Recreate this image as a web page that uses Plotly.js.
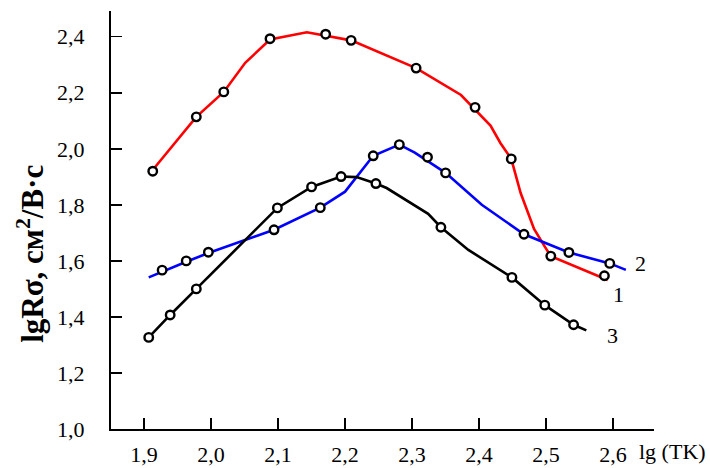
<!DOCTYPE html>
<html>
<head>
<meta charset="utf-8">
<script src="https://cdn.plot.ly/plotly-3.0.1.min.js"></script>
<style>html,body{margin:0;padding:0;background:#fff;}#chart{width:710px;height:468px;}</style>
</head>
<body>
<div id="chart"></div>
<script>
// Axis ticks
const xTickVals = [1.9, 2.0, 2.1, 2.2, 2.3, 2.4, 2.5, 2.6];
const xTickText = ['1,9', '2,0', '2,1', '2,2', '2,3', '2,4', '2,5', '2,6'];
const yTickVals = [1.0, 1.2, 1.4, 1.6, 1.8, 2.0, 2.2, 2.4];
const yTickText = ['1,0', '1,2', '1,4', '1,6', '1,8', '2,0', '2,2', '2,4'];

// Curve 1 (red)
const c1LineX = [1.908, 1.978, 2.019, 2.051, 2.088, 2.143, 2.209, 2.306, 2.373, 2.417, 2.432, 2.448, 2.462, 2.482, 2.498, 2.507, 2.592];
const c1LineY = [1.910, 2.114, 2.203, 2.307, 2.390, 2.416, 2.387, 2.288, 2.192, 2.083, 2.020, 1.964, 1.842, 1.714, 1.651, 1.617, 1.532];
const c1PtsX = [1.913, 1.978, 2.019, 2.088, 2.171, 2.209, 2.306, 2.394, 2.448, 2.507, 2.587];
const c1PtsY = [1.920, 2.114, 2.203, 2.393, 2.409, 2.387, 2.288, 2.148, 1.964, 1.617, 1.547];

// Curve 2 (blue)
const c2LineX = [1.907, 1.927, 1.963, 1.996, 2.094, 2.163, 2.200, 2.242, 2.281, 2.304, 2.350, 2.404, 2.467, 2.534, 2.595, 2.619];
const c2LineY = [1.541, 1.562, 1.597, 1.628, 1.711, 1.790, 1.847, 1.975, 2.015, 1.986, 1.914, 1.800, 1.695, 1.630, 1.591, 1.568];
const c2PtsX = [1.927, 1.963, 1.996, 2.094, 2.163, 2.242, 2.281, 2.323, 2.350, 2.467, 2.534, 2.595];
const c2PtsY = [1.567, 1.600, 1.631, 1.711, 1.790, 1.975, 2.015, 1.970, 1.914, 1.695, 1.630, 1.591];

// Curve 3 (black)
const c3LineX = [1.907, 1.939, 1.978, 2.099, 2.150, 2.194, 2.217, 2.246, 2.262, 2.324, 2.343, 2.384, 2.449, 2.498, 2.541, 2.560];
const c3LineY = [1.327, 1.407, 1.500, 1.789, 1.864, 1.901, 1.899, 1.876, 1.860, 1.768, 1.720, 1.639, 1.541, 1.442, 1.372, 1.352];
const c3PtsX = [1.907, 1.939, 1.978, 2.099, 2.150, 2.194, 2.246, 2.343, 2.449, 2.498, 2.541];
const c3PtsY = [1.327, 1.407, 1.500, 1.789, 1.864, 1.901, 1.876, 1.720, 1.541, 1.442, 1.372];

// Curve labels
const curveLabels = ['1', '2', '3'];
const curveLabelX = [2.608, 2.641, 2.599];
const curveLabelY = [1.479, 1.590, 1.335];

const serif = 'Liberation Serif';
const marker = {symbol: 'circle', size: 8.5, color: '#ffffff', line: {color: '#000000', width: 2.4}};

function lineTrace(x, y, color) {
  return {x: x, y: y, type: 'scatter', mode: 'lines', line: {color: color, width: 2.6}, hoverinfo: 'skip'};
}
function ptsTrace(x, y) {
  return {x: x, y: y, type: 'scatter', mode: 'markers', marker: marker, hoverinfo: 'skip'};
}

const data = [
  lineTrace(c1LineX, c1LineY, '#ff0000'),
  lineTrace(c2LineX, c2LineY, '#0000ff'),
  lineTrace(c3LineX, c3LineY, '#000000'),
  ptsTrace(c1PtsX, c1PtsY),
  ptsTrace(c2PtsX, c2PtsY),
  ptsTrace(c3PtsX, c3PtsY)
];

const annotations = curveLabels.map((t, i) => ({
  text: t, x: curveLabelX[i], y: curveLabelY[i], xref: 'x', yref: 'y',
  showarrow: false, xanchor: 'center', yanchor: 'middle',
  font: {family: serif, size: 22, color: '#000'}
}));
annotations.push({
  text: 'lg (TK)', xref: 'paper', yref: 'paper', x: (637 - 111) / 543, y: 0,
  xanchor: 'left', yanchor: 'top', yshift: -8, showarrow: false,
  font: {family: serif, size: 22, color: '#000'}
});
annotations.push({
  text: 'lgRσ, см<sup>2</sup>/В·с', xref: 'paper', yref: 'paper',
  x: (31 - 111) / 543, y: (429.3 - 254) / 418.3,
  xanchor: 'center', yanchor: 'middle', textangle: -90, showarrow: false,
  font: {family: serif, size: 31, color: '#000', weight: 'bold'}
});

const axisBase = {
  showline: true, linecolor: '#000', linewidth: 2, mirror: false,
  ticks: 'inside', ticklen: 11, tickwidth: 1.5, tickcolor: '#000',
  showgrid: false, zeroline: false,
  tickfont: {family: serif, size: 22, color: '#000'}
};

const layout = {
  width: 710, height: 468,
  margin: {l: 111, r: 56, t: 11, b: 39, pad: 0},
  paper_bgcolor: '#fff', plot_bgcolor: '#fff',
  showlegend: false,
  xaxis: Object.assign({}, axisBase, {range: [1.8507, 2.661], tickmode: 'array', tickvals: xTickVals, ticktext: xTickText, ticklabelstandoff: 5}),
  yaxis: Object.assign({}, axisBase, {range: [1.0, 2.4918], tickmode: 'array', tickvals: yTickVals, ticktext: yTickText, ticklabelstandoff: 20}),
  annotations: annotations
};

Plotly.newPlot('chart', data, layout, {staticPlot: true, displayModeBar: false});
</script>
</body>
</html>
